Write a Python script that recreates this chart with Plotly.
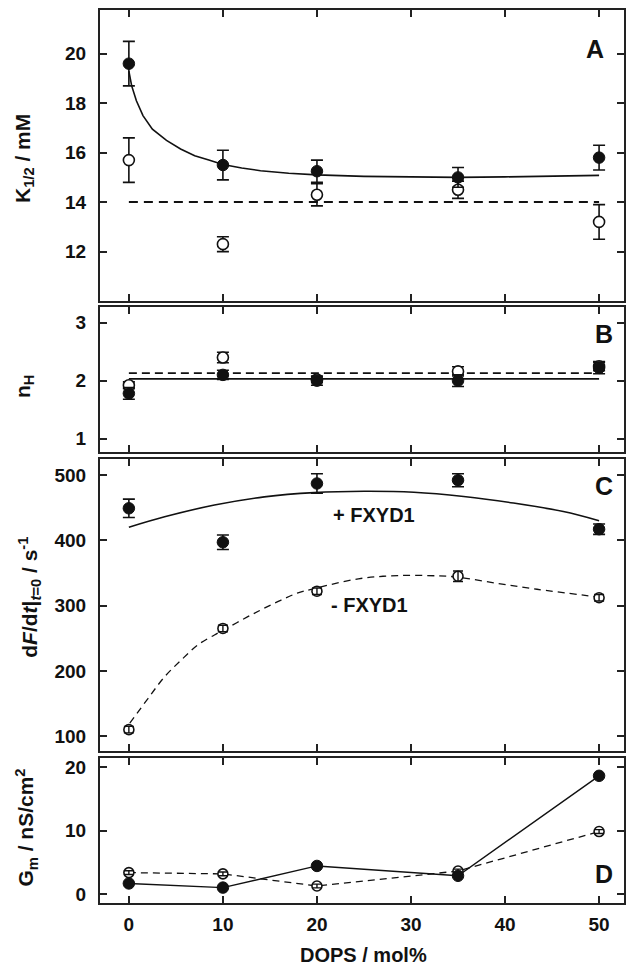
import plotly.graph_objects as go

# ---------------- data ----------------
dops = [0, 10, 20, 35, 50]

# Panel A: K1/2 (mM)
k_with = [19.6, 15.5, 15.25, 15.0, 15.8]
k_with_err = [0.9, 0.6, 0.45, 0.4, 0.5]
k_without = [15.7, 12.3, 14.3, 14.5, 13.2]
k_without_err = [0.9, 0.3, 0.45, 0.35, 0.7]
k_fit_x = [0, 0.3, 0.8, 1.5, 2.5, 4, 5.5, 7, 8.5, 10, 12, 14, 17, 20, 25, 30, 35, 40, 45, 50]
k_fit_y = [19.3, 18.7, 18.1, 17.5, 16.95, 16.5, 16.15, 15.88, 15.7, 15.52, 15.38, 15.27,
           15.17, 15.1, 15.04, 15.01, 15.0, 15.02, 15.05, 15.08]
k_mean_x = [0, 50]
k_mean_y = [14.0, 14.0]

# Panel B: nH
n_with = [1.78, 2.1, 2.0, 2.0, 2.22]
n_with_err = [0.1, 0.08, 0.08, 0.1, 0.1]
n_without = [1.92, 2.4, 2.02, 2.16, 2.25]
n_without_err = [0.06, 0.09, 0.05, 0.08, 0.08]
n_line_x = [0, 50]
n_with_line = [2.03, 2.03]
n_without_line = [2.13, 2.13]

# Panel C: dF/dt|t=0 (s^-1)
r_with = [449, 397, 487, 492, 417]
r_with_err = [14, 11, 15, 10, 8]
r_without = [110, 265, 322, 345, 312]
r_without_err = [5, 5, 5, 8, 5]
r_with_fit_x = [0, 3.8, 9.1, 14.4, 19.7, 25, 30.3, 35.6, 40.9, 46.2, 50]
r_with_fit_y = [420, 436, 454, 466.5, 473, 475, 473.5, 467, 457, 444, 430]
r_without_fit_x = [0.1, 2.05, 3.8, 5.6, 7.35, 9.1, 10, 12.65, 14.4, 16.2, 17.9, 19.7,
                   24.4, 28.6, 32.9, 35, 39.2, 43.4, 50]
r_without_fit_y = [120, 158, 191, 217, 240, 255, 262, 283, 296, 308.5, 319, 326,
                   341, 346, 345.5, 343.5, 334, 325, 313]

# Panel D: Gm (nS/cm2)
g_with = [1.7, 1.05, 4.45, 2.9, 18.6]
g_without = [3.4, 3.2, 1.3, 3.65, 9.85]
g_without_err = [0.3, 0.3, 0.3, 0.3, 0.3]

xticks = [0, 10, 20, 30, 40, 50]

# ---------------- figure ----------------
FONT = "Liberation Sans, Arial, sans-serif"
BLACK = "#111111"
FRAME = "#222222"

fig = go.Figure()


def add(trace, i):
    ax = "" if i == 1 else str(i)
    trace.update(xaxis="x" + ax, yaxis="y" + ax, showlegend=False)
    fig.add_trace(trace)


def err(vals, w=6, th=1.6):
    return dict(type="data", array=vals, visible=True, color=BLACK, thickness=th, width=w)


filled = dict(symbol="circle", size=11.5, color=BLACK, line=dict(color=BLACK, width=1))
opened = dict(symbol="circle", size=11, color="white", line=dict(color=BLACK, width=1.6))
opened_s = dict(symbol="circle", size=10, color="white", line=dict(color=BLACK, width=1.6))
filled_s = dict(symbol="circle", size=11.5, color=BLACK, line=dict(color=BLACK, width=1))

# Panel A
add(go.Scatter(x=k_fit_x, y=k_fit_y, mode="lines", line=dict(color=BLACK, width=1.6)), 1)
add(go.Scatter(x=k_mean_x, y=k_mean_y, mode="lines",
               line=dict(color=BLACK, width=2, dash="9px,6px")), 1)
add(go.Scatter(x=dops, y=k_without, mode="markers", marker=opened, error_y=err(k_without_err)), 1)
add(go.Scatter(x=dops, y=k_with, mode="markers", marker=filled, error_y=err(k_with_err)), 1)

# Panel B
add(go.Scatter(x=n_line_x, y=n_with_line, mode="lines", line=dict(color=BLACK, width=1.8)), 2)
add(go.Scatter(x=n_line_x, y=n_without_line, mode="lines",
               line=dict(color=BLACK, width=1.8, dash="8px,5px")), 2)
add(go.Scatter(x=dops, y=n_without, mode="markers", marker=opened, error_y=err(n_without_err)), 2)
add(go.Scatter(x=dops, y=n_with, mode="markers", marker=filled, error_y=err(n_with_err)), 2)

# Panel C
add(go.Scatter(x=r_with_fit_x, y=r_with_fit_y, mode="lines", line=dict(color=BLACK, width=1.6, shape="spline")), 3)
add(go.Scatter(x=r_without_fit_x, y=r_without_fit_y, mode="lines",
               line=dict(color=BLACK, width=1.3, dash="7px,5px", shape="spline")), 3)
add(go.Scatter(x=dops, y=r_without, mode="markers", marker=opened_s), 3)
add(go.Scatter(x=dops, y=r_without, mode="markers", marker=dict(size=1, opacity=0),
               error_y=err(r_without_err, w=5, th=1.4)), 3)
add(go.Scatter(x=dops, y=r_with, mode="markers", marker=filled_s, error_y=err(r_with_err)), 3)

# Panel D
add(go.Scatter(x=dops, y=g_without, mode="lines+markers", marker=opened_s,
               line=dict(color=BLACK, width=1.3, dash="7px,5px")), 4)
add(go.Scatter(x=dops, y=g_without, mode="markers", marker=dict(size=1, opacity=0),
               error_y=err(g_without_err, w=5, th=1.4)), 4)
add(go.Scatter(x=dops, y=g_with, mode="lines+markers", marker=filled_s,
               line=dict(color=BLACK, width=1.4)), 4)

# ---------------- axes ----------------
domains = [[0.6741, 1.0], [0.5050, 0.6674], [0.1697, 0.4972], [0.0, 0.1624]]
yranges = [[10.0, 21.77], [0.77, 3.27], [76.6, 524.5], [-1.37, 21.4]]
ytickvals = [[12, 14, 16, 18, 20], [1, 2, 3], [100, 200, 300, 400, 500], [0, 10, 20]]

layout = dict(
    width=626, height=967,
    margin=dict(l=100, r=0, t=10, b=64),
    paper_bgcolor="white", plot_bgcolor="white",
    font=dict(family=FONT, color=BLACK, size=19),
)

axis_common = dict(
    showline=True, linewidth=2.2, linecolor=FRAME, mirror="allticks",
    ticks="inside", ticklen=7, tickwidth=1.5, tickcolor=FRAME,
    showgrid=False, zeroline=False,
    tickfont=dict(family=FONT, size=19, color=BLACK, weight="bold"),
)

for i in range(4):
    ax = "" if i == 0 else str(i + 1)
    layout["xaxis" + ax] = dict(
        axis_common, domain=[0, 1], range=[-3.07, 52.65], anchor="y" + ax,
        tickvals=xticks, ticktext=[str(v) for v in xticks],
        showticklabels=(i == 3), ticklabelstandoff=3,
    )
    layout["yaxis" + ax] = dict(
        axis_common, domain=domains[i], range=yranges[i], anchor="x" + ax,
        tickvals=ytickvals[i], ticktext=[str(v) for v in ytickvals[i]],
        ticklabelstandoff=8,
    )

fig.update_layout(**layout)

# ---------------- annotations ----------------
ann = []
ytitles = [
    ("<b>K<sub>1/2</sub> / mM</b>", -0.145, 159),
    ("<b>n<sub>H</sub></b>", -0.145, 387),
    ("<b>d<i>F</i>/d<i>t</i>|<sub><i>t</i>=0</sub> / s<sup>-1</sup></b>", -0.136, 597),
    ("<b>G<sub>m</sub> / nS/cm<sup>2</sup></b>", -0.142, 828),
]
for text, xp, ypx in ytitles:
    ann.append(dict(text=text, xref="paper", yref="paper", x=xp, y=(903 - ypx) / 893,
                    textangle=-90, showarrow=False, xanchor="center", yanchor="middle",
                    font=dict(family=FONT, size=21, color=BLACK)))

ann.append(dict(text="<b>DOPS / mol%</b>", xref="paper", yref="paper",
                x=(365 - 100) / 526, y=(903 - 955) / 893, showarrow=False,
                xanchor="center", yanchor="middle", font=dict(family=FONT, size=20, color=BLACK)))

letters = [("A", "x", "y", 49.6, 20.19), ("B", "x2", "y2", 50.5, 2.806),
           ("C", "x3", "y3", 50.5, 483), ("D", "x4", "y4", 50.5, 3.19)]
for t, xr, yr, xv, yv in letters:
    ann.append(dict(text="<b>" + t + "</b>", xref=xr, yref=yr, x=xv, y=yv, showarrow=False,
                    xanchor="center", yanchor="middle", font=dict(family=FONT, size=25, color=BLACK)))

ann.append(dict(text="<b>+ FXYD1</b>", xref="x3", yref="y3", x=26.1, y=438, showarrow=False,
                xanchor="center", yanchor="middle", font=dict(family=FONT, size=20, color=BLACK)))
ann.append(dict(text="<b>- FXYD1</b>", xref="x3", yref="y3", x=25.6, y=300.6, showarrow=False,
                xanchor="center", yanchor="middle", font=dict(family=FONT, size=20, color=BLACK)))

fig.update_layout(annotations=ann)
fig.write_html("out.html", config={"displayModeBar": False},
               post_script="document.body.style.margin='0';document.body.style.overflow='hidden';")
